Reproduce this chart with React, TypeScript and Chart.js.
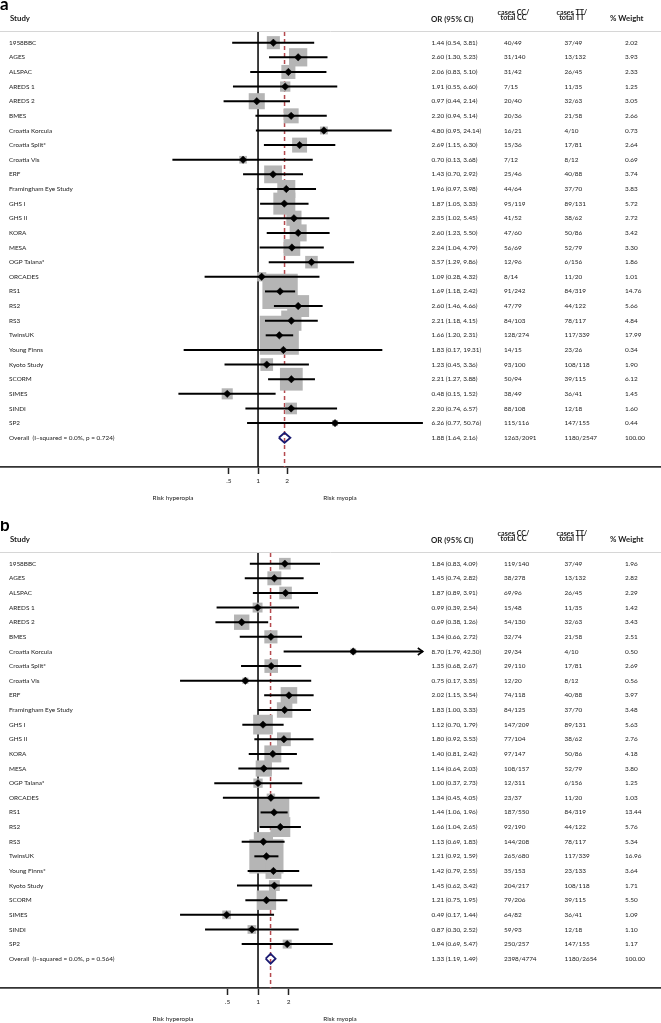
import React, { useEffect, useRef } from "react";
import { Chart, registerables } from "chart.js";

Chart.register(...registerables);

// ---------- Panel a data ----------
const STUDIES_A = [
  "1958BBC", "AGES", "ALSPAC", "AREDS 1", "AREDS 2", "BMES", "Croatia Korcula",
  "Croatia Split*", "Croatia Vis", "ERF", "Framingham Eye Study", "GHS I", "GHS II",
  "KORA", "MESA", "OGP Talana*", "ORCADES", "RS1", "RS2", "RS3", "TwinsUK",
  "Young Finns", "Kyoto Study", "SCORM", "SIMES", "SINDI", "SP2",
];
const OR_A = [1.44, 2.60, 2.06, 1.91, 0.97, 2.20, 4.80, 2.69, 0.70, 1.43, 1.96, 1.87, 2.35, 2.60, 2.24, 3.57, 1.09, 1.69, 2.60, 2.21, 1.66, 1.83, 1.23, 2.21, 0.48, 2.20, 6.26];
const LO_A = [0.54, 1.30, 0.83, 0.55, 0.44, 0.94, 0.95, 1.15, 0.13, 0.70, 0.97, 1.05, 1.02, 1.23, 1.04, 1.29, 0.28, 1.18, 1.46, 1.18, 1.20, 0.17, 0.45, 1.27, 0.15, 0.74, 0.77];
const HI_A = [3.81, 5.23, 5.10, 6.60, 2.14, 5.14, 24.14, 6.30, 3.68, 2.92, 3.98, 3.33, 5.45, 5.50, 4.79, 9.86, 4.32, 2.42, 4.66, 4.15, 2.31, 19.31, 3.36, 3.88, 1.52, 6.57, 50.76];
const CC_A = ["40/49", "31/140", "31/42", "7/15", "20/40", "20/36", "16/21", "15/36", "7/12", "25/46", "44/64", "95/119", "41/52", "47/60", "56/69", "12/96", "8/14", "91/242", "47/79", "84/103", "128/274", "14/15", "93/100", "50/94", "38/49", "88/108", "115/116"];
const TT_A = ["37/49", "13/132", "26/45", "11/35", "32/63", "21/58", "4/10", "17/81", "8/12", "40/88", "37/70", "89/131", "38/62", "50/86", "52/79", "6/156", "11/20", "84/319", "44/122", "78/117", "117/339", "23/26", "108/118", "39/115", "36/41", "12/18", "147/155"];
const W_A = [2.02, 3.93, 2.33, 1.25, 3.05, 2.66, 0.73, 2.64, 0.69, 3.74, 3.83, 5.72, 2.72, 3.42, 3.30, 1.86, 1.01, 14.76, 5.66, 4.84, 17.99, 0.34, 1.90, 6.12, 1.45, 1.60, 0.44];
const OVERALL_A = { or: 1.88, lo: 1.64, hi: 2.16, cc: "1263/2091", tt: "1180/2547", w: 100.0, label: "Overall  (I\u2212squared = 0.0%, p = 0.724)" };

// ---------- Panel b data ----------
const STUDIES_B = [
  "1958BBC", "AGES", "ALSPAC", "AREDS 1", "AREDS 2", "BMES", "Croatia Korcula",
  "Croatia Split*", "Croatia Vis", "ERF", "Framingham Eye Study", "GHS I", "GHS II",
  "KORA", "MESA", "OGP Talana*", "ORCADES", "RS1", "RS2", "RS3", "TwinsUK",
  "Young Finns*", "Kyoto Study", "SCORM", "SIMES", "SINDI", "SP2",
];
const OR_B = [1.84, 1.45, 1.87, 0.99, 0.69, 1.34, 8.70, 1.35, 0.75, 2.02, 1.83, 1.12, 1.80, 1.40, 1.14, 1.00, 1.34, 1.44, 1.66, 1.13, 1.21, 1.42, 1.45, 1.21, 0.49, 0.87, 1.94];
const LO_B = [0.83, 0.74, 0.89, 0.39, 0.38, 0.66, 1.79, 0.68, 0.17, 1.15, 1.00, 0.70, 0.92, 0.81, 0.64, 0.37, 0.45, 1.06, 1.04, 0.69, 0.92, 0.79, 0.62, 0.75, 0.17, 0.30, 0.69];
const HI_B = [4.09, 2.82, 3.91, 2.54, 1.26, 2.72, 42.30, 2.67, 3.35, 3.54, 3.33, 1.79, 3.53, 2.42, 2.03, 2.73, 4.05, 1.96, 2.65, 1.83, 1.59, 2.55, 3.42, 1.95, 1.44, 2.52, 5.47];
const CC_B = ["119/140", "38/278", "69/96", "15/48", "54/130", "32/74", "29/34", "29/110", "12/20", "74/118", "84/125", "147/209", "77/104", "97/147", "108/157", "12/311", "23/37", "187/550", "92/190", "144/208", "265/680", "35/153", "204/217", "79/206", "64/82", "59/93", "250/257"];
const TT_B = ["37/49", "13/132", "26/45", "11/35", "32/63", "21/58", "4/10", "17/81", "8/12", "40/88", "37/70", "89/131", "38/62", "50/86", "52/79", "6/156", "11/20", "84/319", "44/122", "78/117", "117/339", "23/133", "108/118", "39/115", "36/41", "12/18", "147/155"];
const W_B = [1.96, 2.82, 2.29, 1.42, 3.43, 2.51, 0.50, 2.69, 0.56, 3.97, 3.48, 5.63, 2.76, 4.18, 3.80, 1.25, 1.03, 13.44, 5.76, 5.34, 16.96, 3.64, 1.71, 5.50, 1.09, 1.10, 1.17];
const OVERALL_B = { or: 1.33, lo: 1.19, hi: 1.49, cc: "2398/4774", tt: "1180/2654", w: 100.0, label: "Overall  (I\u2212squared = 0.0%, p = 0.564)" };

// ---------- Axis ----------
const TICK_VALUES = [0.5, 1, 2];
const TICK_LABELS = [".5", "1", "2"];
const HEADERS = ["Study", "OR (95% CI)", "cases CC/", "total CC", "cases TT/", "total TT", "% Weight"];
const SIDE_LABELS = ["Risk hyperopia", "Risk myopia"];

// ---------- Style ----------
const FONT = 'Lato, "Liberation Sans", Arial, sans-serif';
const TEXT = "#1a1a1a";
const GRAY = "#b5b5b5";
const RED = "#b5494e";
const NAVY = "#1b1b72";
const Y_MIN = -0.73;
const Y_MAX = 29.0;
const AXIS_H = 20;
const AXIS_Y = 467;
const DIAMOND_HALF = 0.34;

const PANEL_A = {
  letter: "a", studies: STUDIES_A, or: OR_A, lo: LO_A, hi: HI_A, cc: CC_A, tt: TT_A, w: W_A,
  overall: OVERALL_A, height: 521, xMin: 0.00214, xMax: 14750, boxScale: 9.2, arrowAbove: 64,
};
const PANEL_B = {
  letter: "b", studies: STUDIES_B, or: OR_B, lo: LO_B, hi: HI_B, cc: CC_B, tt: TT_B, w: W_B,
  overall: OVERALL_B, height: 502, xMin: 0.00284, xMax: 9495, boxScale: 8.3, arrowAbove: 32,
};

function fmtCI(or: number, lo: number, hi: number) {
  return `${or.toFixed(2)} (${lo.toFixed(2)}, ${hi.toFixed(2)})`;
}

function buildConfig(p: any) {
  const n = p.studies.length;
  const ov = p.overall;
  const pts = p.or.map((v: number, i: number) => ({ x: v, y: i }));

  const tablePlugin = {
    id: "forestTable",
    afterDatasetsDraw(chart: any) {
      const { ctx, chartArea } = chart;
      const xs = chart.scales.x;
      const ys = chart.scales.y;
      const W = chart.width;
      ctx.save();
      // separator
      ctx.strokeStyle = "#d6d6d6";
      ctx.lineWidth = 1;
      ctx.beginPath();
      ctx.moveTo(0, chartArea.top - 0.5);
      ctx.lineTo(W, chartArea.top - 0.5);
      ctx.stroke();

      // arrows for clipped CIs
      ctx.strokeStyle = "#000";
      ctx.lineWidth = 1.6;
      p.hi.forEach((h: number, i: number) => {
        if (h > p.arrowAbove) {
          const px = xs.getPixelForValue(h);
          const py = ys.getPixelForValue(i);
          ctx.beginPath();
          ctx.moveTo(px - 5, py - 3.5);
          ctx.lineTo(px, py);
          ctx.lineTo(px - 5, py + 3.5);
          ctx.stroke();
        }
      });

      // panel letter
      ctx.fillStyle = "#000";
      ctx.textAlign = "left";
      ctx.textBaseline = "alphabetic";
      ctx.font = `bold 17px ${FONT}`;
      ctx.fillText(p.letter, 0, 10);

      // headers
      ctx.fillStyle = TEXT;
      ctx.font = `bold 7.8px ${FONT}`;
      ctx.fillText(HEADERS[0], 10, 21);
      ctx.fillText(HEADERS[1], 431, 21.5);
      ctx.fillText(HEADERS[6], 610, 21);
      ctx.font = `bold 7.2px ${FONT}`;
      ctx.textAlign = "center";
      ctx.fillText(HEADERS[2], 513.5, 15);
      ctx.fillText(HEADERS[3], 513.5, 20);
      ctx.fillText(HEADERS[4], 571.8, 15);
      ctx.fillText(HEADERS[5], 571.8, 20);

      // rows
      ctx.textAlign = "left";
      ctx.textBaseline = "middle";
      ctx.font = `6.4px ${FONT}`;
      for (let i = 0; i < n; i++) {
        const y = ys.getPixelForValue(i);
        ctx.fillText(p.studies[i], 9, y);
        ctx.fillText(fmtCI(p.or[i], p.lo[i], p.hi[i]), 431.5, y);
        ctx.fillText(p.cc[i], 504, y);
        ctx.fillText(p.tt[i], 564.5, y);
        ctx.fillText(p.w[i].toFixed(2), 625, y);
      }
      const yo = ys.getPixelForValue(n);
      ctx.fillText(ov.label, 9, yo);
      ctx.fillText(fmtCI(ov.or, ov.lo, ov.hi), 431.5, yo);
      ctx.fillText(ov.cc, 504, yo);
      ctx.fillText(ov.tt, 564.5, yo);
      ctx.fillText(ov.w.toFixed(2), 625, yo);

      // side labels
      ctx.textAlign = "center";
      ctx.fillText(SIDE_LABELS[0], 173, chartArea.bottom + 30.5);
      ctx.fillText(SIDE_LABELS[1], 340, chartArea.bottom + 30.5);
      ctx.restore();
    },
  };

  return {
    type: "scatter",
    data: {
      datasets: [
        {
          type: "line", label: "No effect",
          data: [{ x: 1, y: Y_MIN }, { x: 1, y: Y_MAX }],
          borderColor: "#111", borderWidth: 1.6, pointRadius: 0, order: 10,
        },
        {
          type: "line", label: "Overall OR",
          data: [{ x: ov.or, y: Y_MIN }, { x: ov.or, y: Y_MAX }],
          borderColor: RED, borderWidth: 1.5, borderDash: [4, 3], pointRadius: 0, order: 9,
        },
        {
          type: "scatter", label: "Weight",
          data: pts,
          pointStyle: "rect",
          pointRadius: p.w.map((w: number) => (p.boxScale * Math.sqrt(w)) / Math.SQRT2),
          pointHoverRadius: p.w.map((w: number) => (p.boxScale * Math.sqrt(w)) / Math.SQRT2),
          backgroundColor: GRAY, borderWidth: 0, order: 8,
        },
        {
          type: "bar", label: "95% CI", indexAxis: "y",
          data: p.lo.map((lo: number, i: number) => ({ x: [lo, p.hi[i]], y: i })),
          backgroundColor: "#000", barThickness: 2, borderWidth: 0, inflateAmount: 0, order: 7,
        },
        {
          type: "scatter", label: "OR",
          data: pts,
          pointStyle: "rectRot", pointRadius: 3.7, pointHoverRadius: 3.7,
          backgroundColor: "#000", borderColor: "#000", borderWidth: 0.5, order: 6,
        },
        {
          type: "line", label: "Overall",
          data: [
            { x: ov.lo, y: n }, { x: ov.or, y: n - DIAMOND_HALF }, { x: ov.hi, y: n },
            { x: ov.or, y: n + DIAMOND_HALF }, { x: ov.lo, y: n },
          ],
          borderColor: NAVY, borderWidth: 1.8, pointRadius: 0, fill: false, tension: 0,
          borderJoinStyle: "miter", order: 0,
        },
      ],
    },
    options: {
      animation: false,
      responsive: false,
      maintainAspectRatio: false,
      devicePixelRatio: 1,
      events: [],
      layout: { autoPadding: false, padding: { top: 32, left: 0, right: 0, bottom: p.height - AXIS_Y - AXIS_H } },
      plugins: { legend: { display: false }, tooltip: { enabled: false } },
      scales: {
        x: {
          type: "logarithmic",
          position: "bottom",
          offset: false,
          min: p.xMin,
          max: p.xMax,
          afterBuildTicks: (s: any) => {
            s.ticks = TICK_VALUES.map((v) => ({ value: v }));
          },
          afterFit: (s: any) => {
            s.height = AXIS_H;
          },
          ticks: {
            autoSkip: false, maxRotation: 0, minRotation: 0, padding: 3, color: TEXT,
            font: { family: FONT, size: 6.5 },
            callback: (_v: any, i: number) => TICK_LABELS[i],
          },
          grid: { display: true, offset: false, drawOnChartArea: false, drawTicks: true, tickLength: 7, tickWidth: 1.5, tickColor: "#222" },
          border: { display: true, color: "#333", width: 1.8 },
        },
        y: { type: "linear", reverse: true, offset: false, grid: { offset: false }, min: Y_MIN, max: Y_MAX, display: false },
      },
    },
    plugins: [tablePlugin],
  };
}

function ForestPanel({ panel }: { panel: any }) {
  const ref = useRef<HTMLCanvasElement | null>(null);
  useEffect(() => {
    if (!ref.current) return;
    const chart = new Chart(ref.current, buildConfig(panel) as any);
    return () => chart.destroy();
  }, [panel]);
  return <canvas ref={ref} width={661} height={panel.height} style={{ display: "block", width: 661, height: panel.height }} />;
}

export default function App() {
  return (
    <div style={{ position: "absolute", left: 0, top: 0, width: 661, height: 1023, background: "#fff" }}>
      <ForestPanel panel={PANEL_A} />
      <ForestPanel panel={PANEL_B} />
    </div>
  );
}
